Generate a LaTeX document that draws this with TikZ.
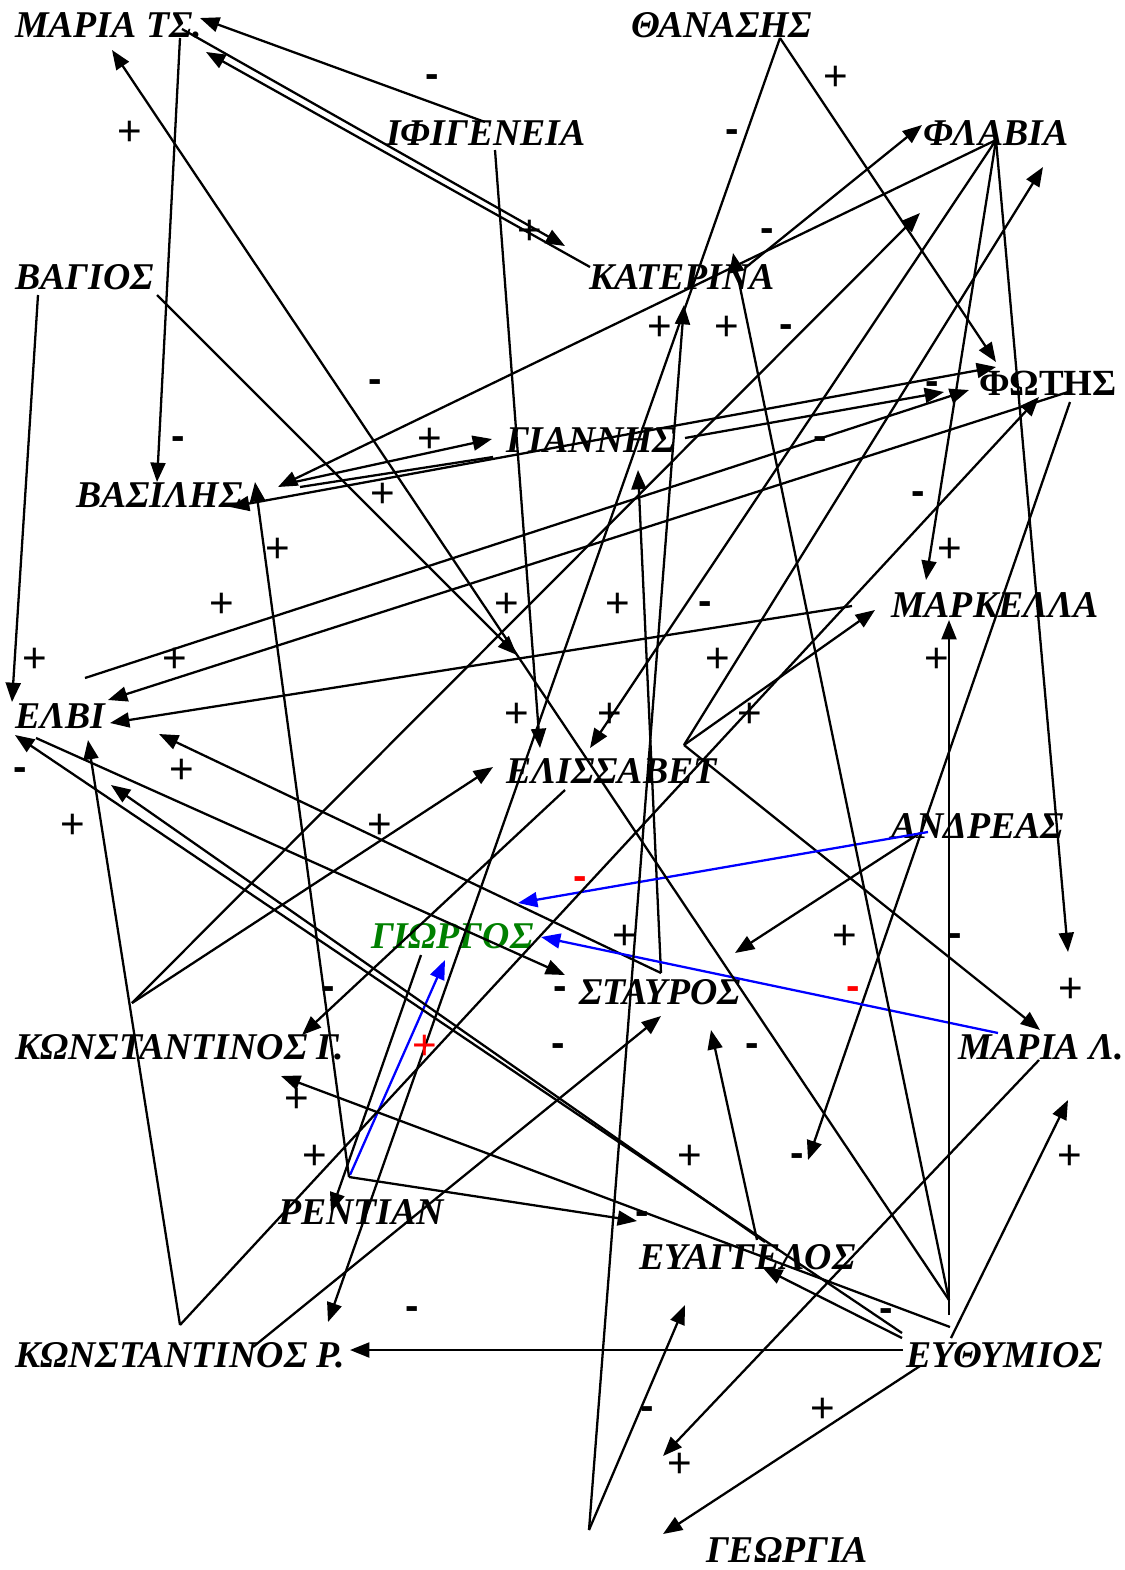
\documentclass[tikz,border=0pt]{standalone}
\usepackage{fontspec}
\setmainfont{Liberation Serif}
\newfontfamily\signfont{Liberation Sans}
\usetikzlibrary{arrows.meta}
\definecolor{gname}{RGB}{0,128,0}
\definecolor{bline}{RGB}{0,0,255}
\definecolor{rsign}{RGB}{255,0,0}

\begin{document}
\begin{tikzpicture}[x=0.02cm, y=-0.02cm, line width=1.3pt,
  >={Triangle[length=11pt,width=8.5pt]},
  person/.style={anchor=west, inner sep=0pt, font=\fontsize{21.5}{24}\selectfont\bfseries\itshape},
  posl/.style={inner sep=0pt, font=\signfont\fontsize{24}{26}\selectfont},
  negl/.style={inner sep=0pt, yshift=-2pt, font=\signfont\fontsize{23}{26}\selectfont\bfseries},
  bl/.style={->, bline}]
  \useasboundingbox (0,0) rectangle (1125,1570);
  % --- persons ---
  \node[person] (mariats) at (14,25) {ΜΑΡΙΑ ΤΣ.};
  \node[person] (thanasis) at (630,25) {ΘΑΝΑΣΗΣ};
  \node[person] (ifigeneia) at (385,133) {ΙΦΙΓΕΝΕΙΑ};
  \node[person] (flavia) at (922,133) {ΦΛΑΒΙΑ};
  \node[person] (vagios) at (14,277) {ΒΑΓΙΟΣ};
  \node[person] (katerina) at (588,277) {ΚΑΤΕΡΙΝΑ};
  \node[person, font=\fontsize{21}{24}\selectfont\bfseries] (fotis) at (978,383) {ΦΩΤΗΣ};
  \node[person] (giannis) at (505,440) {ΓΙΑΝΝΗΣ};
  \node[person] (vasilis) at (75,495) {ΒΑΣΙΛΗΣ};
  \node[person] (markella) at (890,605) {ΜΑΡΚΕΛΛΑ};
  \node[person] (elvi) at (14,716) {ΕΛΒΙ};
  \node[person] (elissavet) at (505,771) {ΕΛΙΣΣΑΒΕΤ};
  \node[person] (andreas) at (890,826) {ΑΝΔΡΕΑΣ};
  \node[person, text=gname] (giorgos) at (370,936) {ΓΙΩΡΓΟΣ};
  \node[person] (stavros) at (578,992) {ΣΤΑΥΡΟΣ};
  \node[person] (konstg) at (14,1047) {ΚΩΝΣΤΑΝΤΙΝΟΣ Γ.};
  \node[person] (marial) at (957,1047) {ΜΑΡΙΑ Λ.};
  \node[person] (rentian) at (277,1212) {ΡΕΝΤΙΑΝ};
  \node[person] (evangelos) at (638,1257) {ΕΥΑΓΓΕΛΟΣ};
  \node[person] (konstr) at (14,1355) {ΚΩΝΣΤΑΝΤΙΝΟΣ Ρ.};
  \node[person] (efthymios) at (905,1355) {ΕΥΘΥΜΙΟΣ};
  \node[person] (georgia) at (705,1550) {ΓΕΩΡΓΙΑ};
  % --- hubs where several lines meet ---
  \coordinate (thH) at (780,38);
  \coordinate (flH) at (996,140);
  \coordinate (efH) at (949,1300);
  \coordinate (stH) at (661,973);
  \coordinate (kgH) at (132,1003);
  \coordinate (krH) at (180,1325);
  \coordinate (reH) at (349,1177);
  \coordinate (geH) at (589,1530);
  \coordinate (miH) at (684,745);
  % --- top ---
  \draw[->] (485,122) -- (200,18);
  \draw[->] (182,29) -- (565,246);
  \draw[->] (590,267) -- (206,52);
  \draw[->] (180,38) -- (157,482);
  \draw[->] (thH) -- (328,1322);
  \draw[->] (thH) -- (996,362);
  \draw[->] (745,268) -- (922,125);
  \draw[->] (495,150) -- (540,748);
  \draw[->] (157,295) -- (517,655);
  \draw[->] (38,295) -- (12,702);
  % --- flavia hub ---
  \draw[->] (flH) -- (278,487);
  \draw[->] (flH) -- (926,580);
  \draw[->] (flH) -- (1068,952);
  \draw[->] (flH) -- (590,748);
  % --- middle ---
  \draw[->] (290,483) -- (492,439);
  \draw (300,487) -- (493,457);
  \draw[<->] (230,507) -- (996,367);
  \draw[->] (685,438) -- (944,392);
  \draw[->] (85,678) -- (969,390);
  \draw[->] (1068,392) -- (108,700);
  \draw[->] (1070,402) -- (808,1160);
  \draw[->] (852,606) -- (110,723);
  \draw[->] (miH) -- (1043,167);
  \draw[->] (miH) -- (875,610);
  \draw[->] (miH) -- (1040,1030);
  \draw[->] (stH) -- (159,734);
  \draw[->] (stH) -- (638,470);
  \draw[->] (36,738) -- (565,975);
  \draw[->] (kgH) -- (920,213);
  \draw[->] (kgH) -- (493,767);
  \draw[->] (565,790) -- (302,1035);
  \draw[->] (920,833) -- (735,953);
  % --- blue ---
  \draw[bl] (928,832) -- (518,903);
  \draw[bl] (998,1033) -- (541,937);
  \draw[bl] (350,1175) -- (445,960);
  % --- lower ---
  \draw[->] (421,955) -- (331,1212);
  \draw[->] (reH) -- (255,482);
  \draw[->] (reH) -- (637,1221);
  \draw[->] (krH) -- (1039,397);
  \draw[->] (krH) -- (88,740);
  \draw[->] (253,1347) -- (661,1016);
  \draw[->] (geH) -- (684,305);
  \draw[->] (geH) -- (685,1305);
  \draw[->] (efH) -- (112,50);
  \draw[->] (efH) -- (733,253);
  \draw[->] (949,1315) -- (949,620);
  \draw[->] (950,1327) -- (281,1076);
  \draw[->] (902,1333) -- (15,735);
  \draw[->] (765,1242) -- (111,785);
  \draw[->] (757,1240) -- (711,1030);
  \draw[->] (902,1338) -- (763,1268);
  \draw[->] (903,1350) -- (350,1350);
  \draw[->] (920,1366) -- (663,1534);
  \draw[->] (951,1338) -- (1068,1100);
  \draw[->] (1039,1060) -- (663,1456);
  % --- signs ---
  \foreach \x/\y [count=\i] in {836/78, 130/133, 530/232, 660/328, 727/328, 430/440, 383/495,
      278/550, 950/550, 222/605, 507/605, 618/605, 35/660, 175/660, 718/660, 937/660,
      517/715, 610/715, 750/715, 182/771, 73/826, 380/826, 625/937, 845/937, 1071/990,
      297/1100, 315/1157, 690/1157, 1070/1157, 823/1410, 680/1465}
    \node[posl] (p\i) at (\x,\y) {+};
  \foreach \x/\y [count=\i] in {432/78, 732/133, 767/232, 786/328, 375/383, 932/385, 178/440,
      820/440, 918/495, 705/605, 20/771, 955/937, 328/990, 560/990, 558/1047, 752/1047,
      797/1157, 642/1215, 412/1310, 886/1312, 647/1410}
    \node[negl] (m\i) at (\x,\y) {-};
  \node[negl, text=rsign] (r1) at (580,880) {-};
  \node[negl, text=rsign] (r2) at (853,990) {-};
  \node[posl, text=rsign] (r3) at (425,1047) {+};
\end{tikzpicture}
\end{document}
